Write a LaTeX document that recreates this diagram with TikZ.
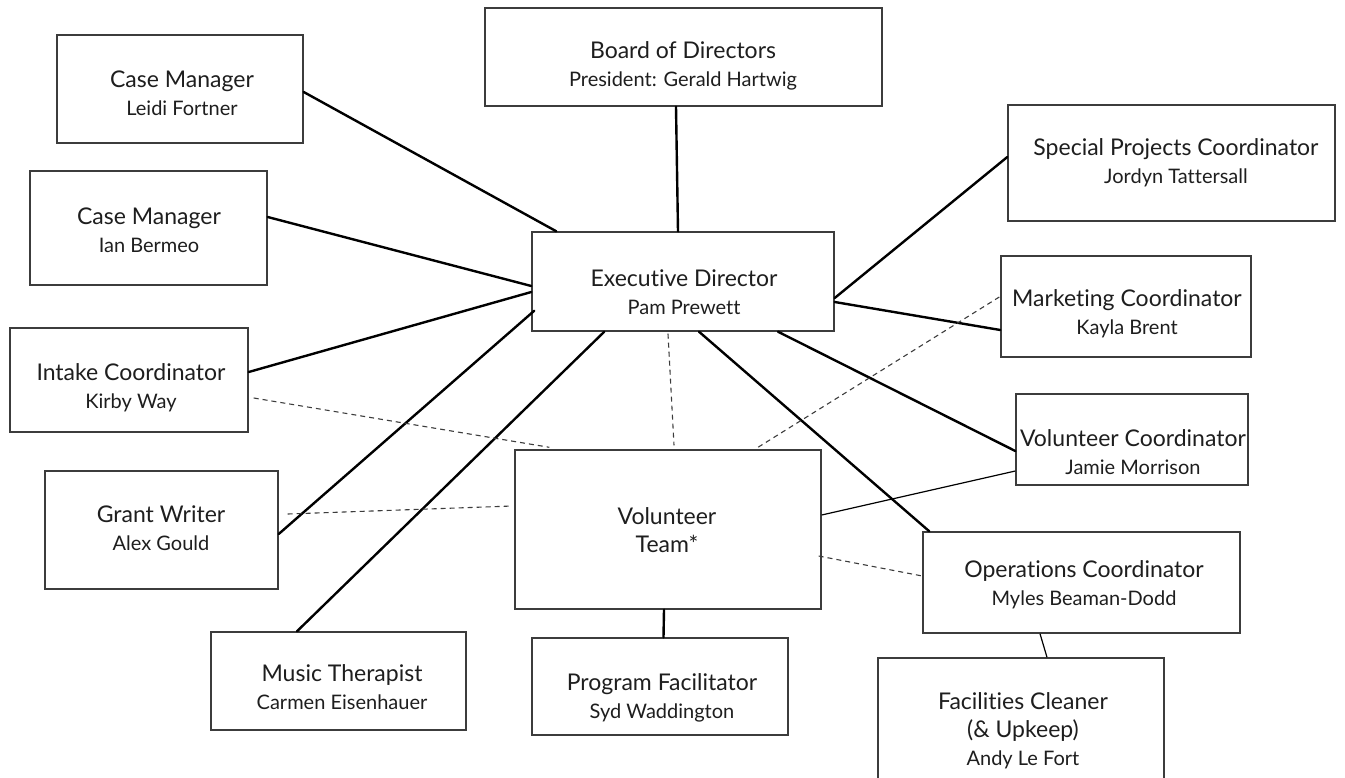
\documentclass[tikz,border=0pt]{standalone}
\usepackage{fontspec}
\setmainfont[Ligatures=NoCommon]{Lato}
\usetikzlibrary{calc}

\definecolor{boxgray}{HTML}{3C3C3C}
\definecolor{inkgray}{HTML}{1E1E1E}

\newcommand{\roletitle}[1]{{\fontsize{23}{28}\selectfont #1}}

\tikzset{
  unit/.style={draw=boxgray, line width=1.4pt, fill=white, inner sep=0pt},
  lbl/.style={align=center, text=inkgray, inner sep=0pt, font=\fontsize{20}{28}\selectfont},
  link/.style={line width=2.4pt, line cap=round},
  thinlink/.style={line width=1.2pt},
  dotted link/.style={line width=1.1pt, draw=boxgray, dash pattern=on 5pt off 4pt}
}

\begin{document}
\begin{tikzpicture}[x=1pt,y=-1pt]

\useasboundingbox (0,0) rectangle (1345,777);
\clip (0,0) rectangle (1345,777);

% Boxes
\node[unit, minimum width=397pt, minimum height=98pt]  (board)   at (683.5,57)   {};
\node[unit, minimum width=246pt, minimum height=108pt] (cma)     at (180,89)     {};
\node[unit, minimum width=237pt, minimum height=114pt] (cmb)     at (148.5,228)  {};
\node[unit, minimum width=238pt, minimum height=104pt] (intake)  at (129,380)    {};
\node[unit, minimum width=233pt, minimum height=118pt] (grant)   at (161.5,530)  {};
\node[unit, minimum width=255pt, minimum height=98pt]  (music)   at (338.5,681)  {};
\node[unit, minimum width=256pt, minimum height=97pt]  (prog)    at (660,686.5)  {};
\node[unit, minimum width=306pt, minimum height=159pt] (team)    at (668,529.5)  {};
\node[unit, minimum width=302pt, minimum height=99pt]  (exec)    at (683,281.5)  {};
\node[unit, minimum width=327pt, minimum height=116pt] (special) at (1171.5,163) {};
\node[unit, minimum width=250pt, minimum height=101pt] (market)  at (1126,306.5) {};
\node[unit, minimum width=232pt, minimum height=91pt]  (volco)   at (1132,439.5) {};
\node[unit, minimum width=317pt, minimum height=101pt] (ops)     at (1081.5,582.5) {};
\node[unit, minimum width=286pt, minimum height=144pt] (fac)     at (1021,730)   {};

% Texts
\node[lbl] (board-t)   at (683,66)     {\roletitle{Board of Directors}\\President: Gerald Hartwig};
\node[lbl] (cma-t)     at (182,93)     {\roletitle{Case Manager}\\Leidi Fortner};
\node[lbl] (cmb-t)     at (149,230)    {\roletitle{Case Manager}\\Ian Bermeo};
\node[lbl] (intake-t)  at (131,387.5)  {\roletitle{Intake Coordinator}\\Kirby Way};
\node[lbl] (grant-t)   at (161,528.5)  {\roletitle{Grant Writer}\\Alex Gould};
\node[lbl] (music-t)   at (342,687.5)  {\roletitle{Music Therapist}\\Carmen Eisenhauer};
\node[lbl] (prog-t)    at (662,697.5)  {\roletitle{Program Facilitator}\\Syd Waddington};
\node[lbl] (team-t)    at (667,530.5)  {\roletitle{Volunteer}\\\roletitle{Team*}};
\node[lbl] (exec-t)    at (684,292)    {\roletitle{Executive Director}\\Pam Prewett};
\node[lbl] (special-t) at (1176,162.5) {\roletitle{Special Projects Coordinator}\\Jordyn Tattersall};
\node[lbl] (market-t)  at (1127,313.5) {\roletitle{Marketing Coordinator}\\Kayla Brent};
\node[lbl] (volco-t)   at (1133,452.5) {\roletitle{Volunteer Coordinator}\\Jamie Morrison};
\node[lbl] (ops-t)     at (1084,584.5) {\roletitle{Operations Coordinator}\\Myles Beaman-Dodd};
\node[lbl] (fac-t)     at (1023,731)   {\roletitle{Facilities Cleaner}\\\roletitle{(\& Upkeep)}\\Andy Le Fort};

% Reporting lines
\draw[link] ($(board.south)+(-7.5,0)$) -- ($(exec.north)+(-5,0)$);
\draw[link] ($(cma.east)+(0,3)$) -- ($(exec.north west)+(25,0)$);
\draw[link] ($(cmb.east)+(0,-11)$) -- ($(exec.west)+(0,4.5)$);
\draw[link] ($(intake.east)+(0,-8)$) -- ($(exec.west)+(0,10.5)$);
\draw[link] ($(grant.east)+(0,4)$) -- ($(exec.south west)+(3,-21)$);
\draw[link] ($(music.north)+(-41.5,0)$) -- ($(exec.south west)+(73,0)$);
\draw[link] ($(exec.south)+(16,0)$) -- ($(ops.north west)+(7,0)$);
\draw[link] ($(exec.south)+(95,0)$) -- ($(volco.west)+(0,11.5)$);
\draw[link] ($(exec.east)+(0,20.5)$) -- ($(market.west)+(0,23.5)$);
\draw[link] ($(exec.east)+(0,16.5)$) -- ($(special.west)+(0,-6)$);
\draw[link] ($(team.south)+(-4,0)$) -- ($(prog.north)+(3.5,0)$);

% Thin lines
\draw[thinlink] ($(team.east)+(0,-14.5)$) -- ($(volco.west)+(0,31.5)$);
\draw[thinlink] ($(ops.south)+(-41.5,0)$) -- ($(fac.north)+(26,0)$);

% Volunteer links (dashed)
\draw[dotted link] ($(intake.east)+(5,18)$) -- ($(team.north west)+(35,-2)$);
\draw[dotted link] ($(exec.south)+(-15,2)$) -- ($(team.north)+(6,-4)$);
\draw[dotted link] ($(market.west)+(-1,-9.5)$) -- ($(team.north)+(90,-2)$);
\draw[dotted link] ($(grant.east)+(9,-16)$) -- ($(team.west)+(-2,-23.5)$);
\draw[dotted link] ($(team.east)+(-3,26.5)$) -- ($(ops.west)+(0,-6.5)$);

\end{tikzpicture}
\end{document}
